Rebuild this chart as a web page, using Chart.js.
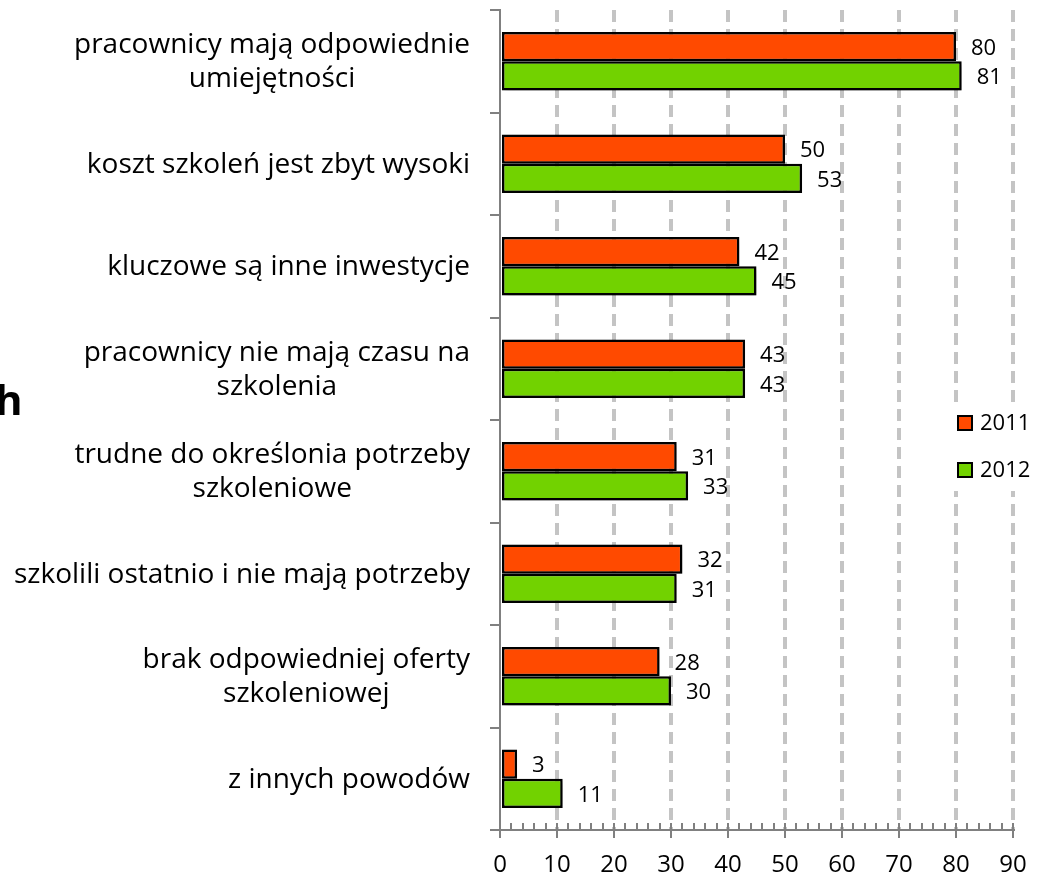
<!DOCTYPE html>
<html>
<head>
<meta charset="utf-8">
<script src="https://cdn.jsdelivr.net/npm/chart.js@4.4.1/dist/chart.umd.min.js"></script>
<style>
  html, body { margin: 0; padding: 0; background: #fff; }
  #wrap { position: relative; width: 1043px; height: 875px; overflow: hidden; }
  #cut { position: absolute; left: -5px; top: 378px; font: bold 42px "Open Sans"; line-height: 42px; color: #000; }
</style>
</head>
<body>
<div id="wrap">
  <canvas id="chart" width="1043" height="875"></canvas>
  <div id="cut">h</div>
</div>
<script>
// Categories (multi-line labels) and values
const categories = [
    ["pracownicy mają odpowiednie", "umiejętności"],
    ["koszt szkoleń jest zbyt wysoki"],
    ["kluczowe są inne inwestycje"],
    ["pracownicy nie mają czasu na", "szkolenia"],
    ["trudne do określonia potrzeby", "szkoleniowe"],
    ["szkolili ostatnio i nie mają potrzeby"],
    ["brak odpowiedniej oferty", "szkoleniowej"],
    ["z innych powodów"]
];
const seriesNames = ["2011", "2012"];
const values2011 = [80, 50, 42, 43, 31, 32, 28, 3];
const values2012 = [81, 53, 45, 43, 33, 31, 30, 11];
const xMin = 0;
const xMax = 90;
const xStep = 10;
const xMinorStep = 2;

const RED = "#FF4A00";
const GREEN = "#72D200";
const AXIS = "#808080";
const FONT = '"Open Sans", "Liberation Sans", sans-serif';

// soft drop shadow under the bars
const barShadow = {
    id: "barShadow",
    beforeDatasetsDraw(chart) {
        const ctx = chart.ctx;
        ctx.save();
        ctx.shadowColor = "rgba(0,0,0,0.35)";
        ctx.shadowBlur = 6;
        ctx.shadowOffsetX = 2;
        ctx.shadowOffsetY = 3;
    },
    afterDatasetsDraw(chart) {
        chart.ctx.restore();
    }
};

// category labels: block right-aligned, lines centred inside the block
const categoryLabels = {
    id: "categoryLabels",
    afterDraw(chart) {
        const ctx = chart.ctx;
        const y = chart.scales.y;
        ctx.save();
        ctx.font = "28px " + FONT;
        ctx.fillStyle = "#000";
        ctx.textAlign = "center";
        ctx.textBaseline = "middle";
        chart.data.labels.forEach((lines, i) => {
            const cy = y.getPixelForValue(i);
            const w = Math.max(...lines.map(l => ctx.measureText(l).width));
            const cx = y.right - 30 - w / 2;
            lines.forEach((l, j) => {
                ctx.fillText(l, cx, cy + (j - (lines.length - 1) / 2) * 34 + 1);
            });
        });
        ctx.restore();
    }
};

// value labels right of each bar
const valueLabels = {
    id: "valueLabels",
    afterDatasetsDraw(chart) {
        const ctx = chart.ctx;
        ctx.save();
        ctx.font = "22px " + FONT;
        ctx.fillStyle = "#000";
        ctx.textAlign = "left";
        ctx.textBaseline = "middle";
        chart.data.datasets.forEach((ds, di) => {
            chart.getDatasetMeta(di).data.forEach((bar, i) => {
                ctx.fillText(String(ds.data[i]), bar.x + 15, bar.y + 2);
            });
        });
        ctx.restore();
    }
};

// minor tick marks on the value axis
const minorTicks = {
    id: "minorTicks",
    afterDraw(chart) {
        const ctx = chart.ctx;
        const x = chart.scales.x;
        const bottom = chart.chartArea.bottom;
        ctx.save();
        ctx.strokeStyle = AXIS;
        ctx.lineWidth = 2;
        ctx.beginPath();
        for (let v = xMin; v <= xMax; v += xMinorStep) {
            const px = Math.round(x.getPixelForValue(v));
            ctx.moveTo(px, bottom - 7);
            ctx.lineTo(px, bottom);
        }
        ctx.stroke();
        ctx.restore();
    }
};

// legend box sitting over the plot, right side
const sideLegend = {
    id: "sideLegend",
    afterDraw(chart) {
        const ctx = chart.ctx;
        ctx.save();
        ctx.fillStyle = "#fff";
        ctx.fillRect(946, 403, 92, 88);
        ctx.font = "22px " + FONT;
        ctx.textAlign = "left";
        ctx.textBaseline = "middle";
        chart.data.datasets.forEach((ds, i) => {
            const cy = 423 + i * 47;
            ctx.fillStyle = ds.backgroundColor;
            ctx.fillRect(958, cy - 7, 14, 14);
            ctx.strokeStyle = "#000";
            ctx.lineWidth = 2;
            ctx.strokeRect(958, cy - 7, 14, 14);
            ctx.fillStyle = "#000";
            ctx.fillText(ds.label, 980, cy + 1);
        });
        ctx.restore();
    }
};

new Chart(document.getElementById("chart"), {
    type: "bar",
    data: {
        labels: categories,
        datasets: [
            { label: seriesNames[0], data: values2011, backgroundColor: RED, borderColor: "#000", borderWidth: 2.5, borderSkipped: false },
            { label: seriesNames[1], data: values2012, backgroundColor: GREEN, borderColor: "#000", borderWidth: 2.5, borderSkipped: false }
        ]
    },
    options: {
        indexAxis: "y",
        responsive: false,
        animation: false,
        devicePixelRatio: 1,
        categoryPercentage: 0.57,
        barPercentage: 1,
        layout: { padding: { top: 10, right: 30, left: 0, bottom: 0 } },
        plugins: {
            legend: { display: false },
            tooltip: { enabled: false }
        },
        scales: {
            x: {
                min: xMin,
                max: xMax,
                ticks: { stepSize: xStep, color: "#000", font: { family: FONT, size: 24 }, padding: 13 },
                grid: {
                    color: c => (c.tick && c.tick.value === xMin) ? "rgba(0,0,0,0)" : "#c4c4c4",
                    lineWidth: 4,
                    tickColor: AXIS,
                    tickLength: 8,
                    tickWidth: 2
                },
                border: { color: AXIS, width: 2, dash: [12, 7] },
                afterFit(scale) { scale.height = 45; }
            },
            y: {
                ticks: { display: false },
                grid: { drawOnChartArea: false, color: AXIS, lineWidth: 2, tickLength: 10, offset: true },
                border: { color: AXIS, width: 2 },
                afterFit(scale) { scale.width = 500; }
            }
        }
    },
    plugins: [barShadow, valueLabels, categoryLabels, minorTicks, sideLegend]
});
</script>
</body>
</html>
